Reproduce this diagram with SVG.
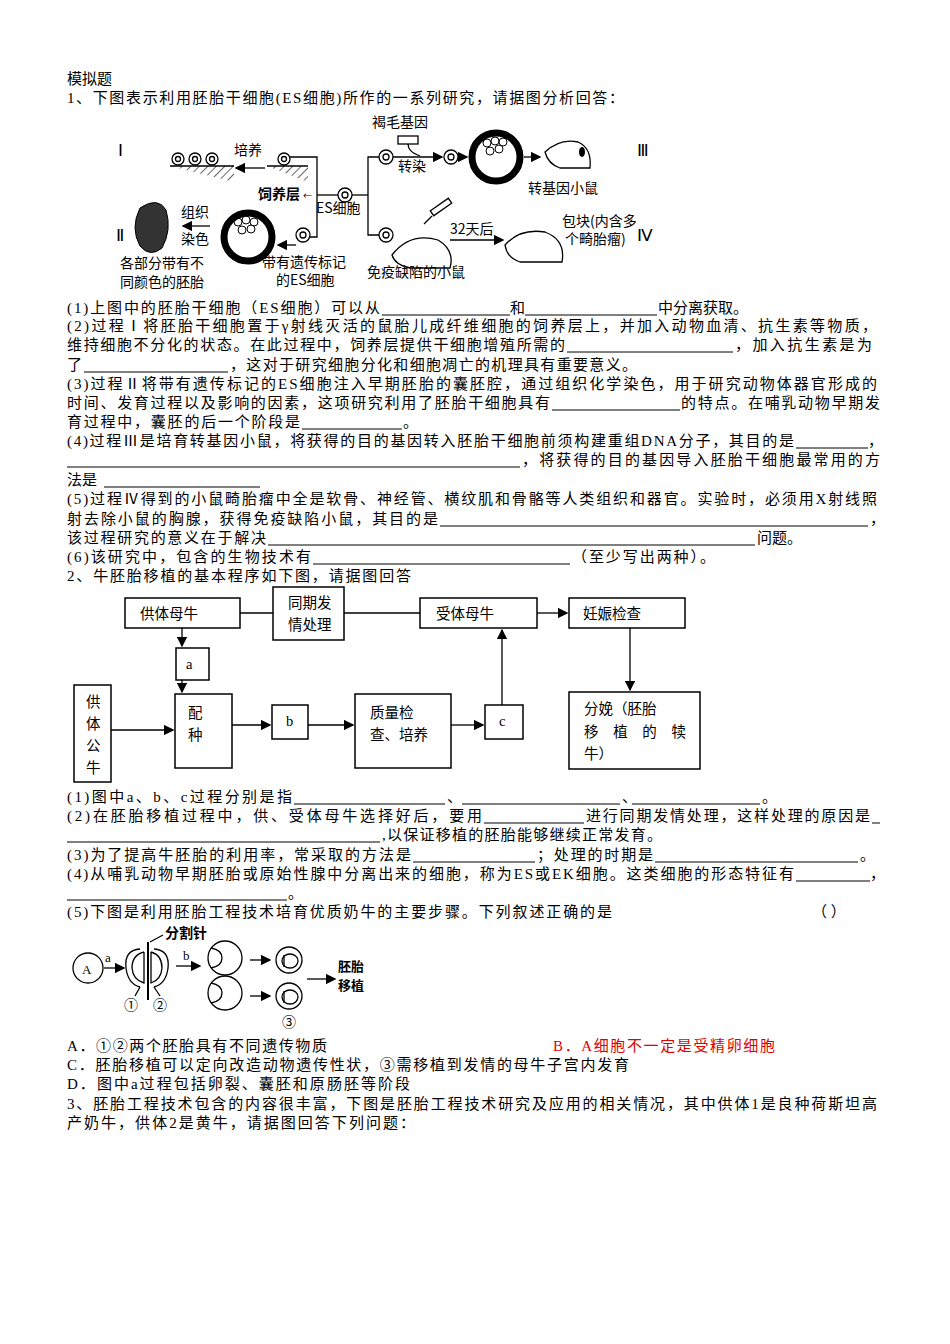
<svg xmlns="http://www.w3.org/2000/svg" width="950" height="1344" viewBox="0 0 950 1344">
<style>
text{font-family:"Liberation Serif","Noto Sans CJK SC",serif;font-size:15px;fill:#000}
.u{stroke:#000;stroke-width:1}
.b{fill:#fff;stroke:#000;stroke-width:1.5}
.l{stroke:#000;stroke-width:1.3;fill:none}
.f text{font-size:14.5px}
.fig text{font-family:"Noto Sans CJK SC",sans-serif;font-size:14px}
</style>
<defs>
<marker id="ar" markerWidth="8" markerHeight="8" refX="7" refY="4" orient="auto"><path d="M0,0 L8,4 L0,8 z" fill="#000"/></marker>
<pattern id="h" width="6" height="6" patternUnits="userSpaceOnUse" patternTransform="rotate(45)"><line x1="0" y1="0" x2="0" y2="6" stroke="#000" stroke-width="1.2"/></pattern>
</defs>
<rect width="950" height="1344" fill="#fff"/>
<g id="text">
<text x="67" y="84">模拟题</text>
<text x="67" y="103" textLength="557">1、下图表示利用胚胎干细胞(ES细胞)所作的一系列研究，请据图分析回答：</text>
<text x="67" y="313" textLength="313">(1)上图中的胚胎干细胞（ES细胞）可以从</text><line class="u" x1="382" y1="315" x2="510" y2="315"/><text x="510" y="313">和</text><line class="u" x1="525" y1="315" x2="657" y2="315"/><text x="658" y="313">中分离获取。</text>
<text x="67" y="331" textLength="810">(2)过程Ⅰ将胚胎干细胞置于γ射线灭活的鼠胎儿成纤维细胞的饲养层上，并加入动物血清、抗生素等物质，</text>
<text x="67" y="350" textLength="498">维持细胞不分化的状态。在此过程中，饲养层提供干细胞增殖所需的</text><line class="u" x1="567" y1="352" x2="733" y2="352"/><text x="735" y="350" textLength="137">，加入抗生素是为</text>
<text x="67" y="370">了</text><line class="u" x1="84" y1="372" x2="228" y2="372"/><text x="230" y="370" textLength="407">，这对于研究细胞分化和细胞凋亡的机理具有重要意义。</text>
<text x="67" y="389" textLength="810">(3)过程Ⅱ将带有遗传标记的ES细胞注入早期胚胎的囊胚腔，通过组织化学染色，用于研究动物体器官形成的</text>
<text x="67" y="408" textLength="483">时间、发育过程以及影响的因素，这项研究利用了胚胎干细胞具有</text><line class="u" x1="552" y1="410" x2="680" y2="410"/><text x="681" y="408" textLength="199">的特点。在哺乳动物早期发</text>
<text x="67" y="427" textLength="233">育过程中，囊胚的后一个阶段是</text><line class="u" x1="302" y1="429" x2="402" y2="429"/><text x="403" y="427">。</text>
<text x="67" y="446" textLength="727">(4)过程Ⅲ是培育转基因小鼠，将获得的目的基因转入胚胎干细胞前须构建重组DNA分子，其目的是</text><line class="u" x1="796" y1="448" x2="868" y2="448"/><text x="868" y="446">，</text>
<line class="u" x1="67" y1="467" x2="520" y2="467"/><text x="522" y="465" textLength="358">，将获得的目的基因导入胚胎干细胞最常用的方</text>
<text x="67" y="485">法是</text><line class="u" x1="104" y1="487" x2="260" y2="487"/>
<text x="67" y="504" textLength="810">(5)过程Ⅳ得到的小鼠畸胎瘤中全是软骨、神经管、横纹肌和骨骼等人类组织和器官。实验时，必须用X射线照</text>
<text x="67" y="524" textLength="371">射去除小鼠的胸腺，获得免疫缺陷小鼠，其目的是</text><line class="u" x1="440" y1="526" x2="868" y2="526"/><text x="870" y="524">，</text>
<text x="67" y="543" textLength="199">该过程研究的意义在于解决</text><line class="u" x1="268" y1="545" x2="755" y2="545"/><text x="757" y="543">问题。</text>
<text x="67" y="562" textLength="244">(6)该研究中，包含的生物技术有</text><line class="u" x1="313" y1="564" x2="570" y2="564"/><text x="572" y="562" textLength="143">（至少写出两种）。</text>
<text x="67" y="581" textLength="344">2、牛胚胎移植的基本程序如下图，请据图回答</text>
<text x="67" y="802" textLength="225">(1)图中a、b、c过程分别是指</text><line class="u" x1="294" y1="804" x2="445" y2="804"/><text x="447" y="802">、</text><line class="u" x1="462" y1="804" x2="620" y2="804"/><text x="622" y="802">、</text><line class="u" x1="632" y1="804" x2="760" y2="804"/><text x="762" y="802">。</text>
<text x="67" y="821" textLength="415">(2)在胚胎移植过程中，供、受体母牛选择好后，要用</text><line class="u" x1="484" y1="823" x2="584" y2="823"/><text x="586" y="821" textLength="284">进行同期发情处理，这样处理的原因是</text><line class="u" x1="872" y1="823" x2="880" y2="823"/>
<line class="u" x1="67" y1="842" x2="380" y2="842"/><text x="382" y="840" textLength="280">,以保证移植的胚胎能够继续正常发育。</text>
<text x="67" y="860" textLength="344">(3)为了提高牛胚胎的利用率，常采取的方法是</text><line class="u" x1="413" y1="862" x2="535" y2="862"/><text x="537" y="860" textLength="116">；处理的时期是</text><line class="u" x1="655" y1="862" x2="858" y2="862"/><text x="860" y="860">。</text>
<text x="67" y="879" textLength="727">(4)从哺乳动物早期胚胎或原始性腺中分离出来的细胞，称为ES或EK细胞。这类细胞的形态特征有</text><line class="u" x1="796" y1="881" x2="870" y2="881"/><text x="870" y="879">，</text>
<line class="u" x1="67" y1="900" x2="287" y2="900"/><text x="288" y="898">。</text>
<text x="67" y="917" textLength="545">(5)下图是利用胚胎工程技术培育优质奶牛的主要步骤。下列叙述正确的是</text><text x="812" y="917">（     ）</text>
<text x="67" y="1051" textLength="260">A．①②两个胚胎具有不同遗传物质</text><text x="553" y="1051" textLength="222" style="fill:#e00000">B．A细胞不一定是受精卵细胞</text>
<text x="67" y="1070" textLength="562">C．胚胎移植可以定向改造动物遗传性状，③需移植到发情的母牛子宫内发育</text>
<text x="67" y="1089" textLength="343">D．图中a过程包括卵裂、囊胚和原肠胚等阶段</text>
<text x="67" y="1109" textLength="810">3、胚胎工程技术包含的内容很丰富，下图是胚胎工程技术研究及应用的相关情况，其中供体1是良种荷斯坦高</text>
<text x="67" y="1128" textLength="348">产奶牛，供体2是黄牛，请据图回答下列问题：</text>
</g>
<g id="figure1" class="fig">
<text x="118" y="156" style="font-family:'Liberation Serif',serif;font-size:17px">Ⅰ</text>
<text x="116" y="241" style="font-family:'Liberation Serif',serif;font-size:17px">Ⅱ</text>
<text x="637" y="156" style="font-family:'Liberation Serif',serif;font-size:17px">Ⅲ</text>
<text x="637" y="241" style="font-family:'Liberation Serif',serif;font-size:17px">Ⅳ</text>
<g class="l" stroke-width="1.5">
<circle cx="178" cy="159" r="6"/><circle cx="178" cy="159" r="2.5"/>
<circle cx="195" cy="159" r="6"/><circle cx="195" cy="159" r="2.5"/>
<circle cx="212" cy="159" r="6"/><circle cx="212" cy="159" r="2.5"/>
<circle cx="284" cy="159" r="6"/><circle cx="284" cy="159" r="2.5"/>
<circle cx="345" cy="195" r="7"/><circle cx="345" cy="195" r="3"/>
<circle cx="386" cy="157" r="7"/><circle cx="386" cy="157" r="3"/>
<circle cx="451" cy="157" r="7"/><circle cx="451" cy="157" r="3"/>
<circle cx="303" cy="235" r="7"/><circle cx="303" cy="235" r="3"/>
<circle cx="386" cy="235" r="7"/><circle cx="386" cy="235" r="3"/>
</g>
<polygon points="170,166 234,166 234,182" fill="url(#h)"/><line class="l" x1="170" y1="166" x2="234" y2="166"/>
<polygon points="267,166 308,166 308,182" fill="url(#h)"/><line class="l" x1="267" y1="166" x2="308" y2="166"/>
<text x="234" y="155">培养</text>
<line class="l" x1="265" y1="168" x2="236" y2="168" marker-end="url(#ar)"/>
<polyline class="l" points="290,157 317,157 317,237 310,237"/>
<line class="l" x1="317" y1="195" x2="338" y2="195"/>
<polyline class="l" points="352,195 368,195"/>
<polyline class="l" points="379,157 368,157 368,235 379,235"/>
<line class="l" x1="393" y1="157" x2="442" y2="157" marker-end="url(#ar)"/>
<line class="l" x1="458" y1="157" x2="467" y2="157" marker-end="url(#ar)"/>
<text x="258" y="199" style="font-weight:bold">饲养层</text><text x="303" y="199" style="font-size:9px">←</text>
<text x="316" y="213">ES细胞</text>
<text x="372" y="127">褐毛基因</text>
<rect x="398" y="136" width="20" height="8" class="l"/>
<path class="l" d="M408,144 Q408,152 420,156"/>
<text x="398" y="171">转染</text>
<circle cx="496" cy="157" r="24" fill="none" stroke="#000" stroke-width="7"/>
<g fill="none" stroke="#000"><circle cx="487" cy="143" r="4"/><circle cx="495" cy="141" r="4"/><circle cx="503" cy="142" r="4"/><circle cx="490" cy="151" r="4"/><circle cx="499" cy="149" r="4"/></g>
<line class="l" x1="524" y1="157" x2="540" y2="157" marker-end="url(#ar)"/>
<path class="l" d="M545,152 Q560,138 578,142 Q592,148 590,168 L560,168 Q548,164 545,152 Z"/><ellipse cx="582" cy="152" rx="3" ry="5" fill="#000"/>
<text x="528" y="193">转基因小鼠</text>
<line class="l" x1="296" y1="245" x2="278" y2="245" marker-end="url(#ar)"/>
<circle cx="248" cy="237" r="24" fill="none" stroke="#000" stroke-width="7"/>
<g fill="none" stroke="#000"><circle cx="238" cy="222" r="4"/><circle cx="246" cy="220" r="4"/><circle cx="254" cy="222" r="4"/><circle cx="242" cy="230" r="4"/><circle cx="251" cy="229" r="4"/></g>
<text x="262" y="267">带有遗传标记</text><text x="276" y="285">的ES细胞</text>
<text x="181" y="217">组织</text><text x="181" y="244">染色</text>
<line class="l" x1="210" y1="226" x2="183" y2="226" marker-end="url(#ar)"/>
<path d="M140,208 Q158,196 166,210 Q172,230 162,248 Q150,258 140,246 Q130,228 140,208 Z" fill="#333" stroke="#000"/>
<text x="120" y="268">各部分带有不</text><text x="120" y="287">同颜色的胚胎</text>
<rect x="430" y="204" width="22" height="6" transform="rotate(-35 441 207)" class="l"/>
<line class="l" x1="432" y1="216" x2="424" y2="224"/>
<path class="l" d="M392,255 Q410,232 438,240 Q455,250 450,268 L410,268 Q395,265 392,255 Z"/>
<text x="367" y="277">免疫缺陷的小鼠</text>
<text x="450" y="234">32天后</text>
<line class="l" x1="450" y1="240" x2="503" y2="240" marker-end="url(#ar)"/>
<path class="l" d="M505,245 Q520,228 545,232 Q566,240 562,262 L520,262 Q507,258 505,245 Z"/>
<text x="562" y="226">包块(内含多</text><text x="565" y="244">个畸胎瘤)</text>
</g>
<g id="flowchart" class="f">
<g class="l" stroke-width="1.3">
<line x1="240" y1="613" x2="273" y2="613"/>
<line x1="344" y1="613" x2="420" y2="613"/>
<line x1="537" y1="613" x2="567" y2="613" marker-end="url(#ar)"/>
<line x1="182" y1="628" x2="182" y2="646" marker-end="url(#ar)"/>
<line x1="182" y1="680" x2="182" y2="692" marker-end="url(#ar)"/>
<line x1="111" y1="730" x2="173" y2="730" marker-end="url(#ar)"/>
<line x1="232" y1="725" x2="270" y2="725" marker-end="url(#ar)"/>
<line x1="308" y1="725" x2="353" y2="725" marker-end="url(#ar)"/>
<line x1="451" y1="725" x2="483" y2="725" marker-end="url(#ar)"/>
<line x1="502" y1="705" x2="502" y2="630" marker-end="url(#ar)"/>
<line x1="630" y1="628" x2="630" y2="690" marker-end="url(#ar)"/>
</g>
<rect class="b" x="125" y="598" width="115" height="30"/><text x="140" y="619">供体母牛</text>
<rect class="b" x="273" y="587" width="71" height="53"/><text x="288" y="608">同期发</text><text x="288" y="630">情处理</text>
<rect class="b" x="420" y="598" width="117" height="30"/><text x="436" y="619">受体母牛</text>
<rect class="b" x="569" y="598" width="116" height="30"/><text x="583" y="619">妊娠检查</text>
<rect class="b" x="176" y="648" width="33" height="32"/><text x="186" y="669">a</text>
<rect class="b" x="175" y="694" width="57" height="74"/><text x="188" y="718">配</text><text x="188" y="740">种</text>
<rect class="b" x="74" y="685" width="37" height="97"/><text x="86" y="707">供</text><text x="86" y="729">体</text><text x="86" y="751">公</text><text x="86" y="773">牛</text>
<rect class="b" x="272" y="705" width="36" height="34"/><text x="286" y="726">b</text>
<rect class="b" x="355" y="694" width="96" height="74"/><text x="370" y="718">质量检</text><text x="370" y="740">查、培养</text>
<rect class="b" x="485" y="705" width="38" height="34"/><text x="499" y="726">c</text>
<rect class="b" x="569" y="692" width="131" height="77"/><text x="584" y="714">分娩（胚胎</text><text x="584" y="737" textLength="102">移植的犊</text><text x="584" y="759">牛）</text>
</g>
<g id="figure2" class="fig">
<circle class="l" cx="88" cy="968" r="15"/><text x="82" y="974" style="font-family:'Liberation Serif',serif;font-size:13px">A</text>
<text x="105" y="962" style="font-family:'Liberation Serif',serif;font-size:13px">a</text>
<line class="l" x1="104" y1="968" x2="124" y2="968" marker-end="url(#ar)"/>
<path class="l" d="M140,949 Q124,950 126,968 Q128,984 140,987 M154,949 Q170,950 168,968 Q166,984 154,987"/>
<path class="l" d="M144,952 Q132,955 132,968 Q133,980 144,983 L144,952 M151,952 Q162,955 162,968 Q161,980 151,983 L151,952"/>
<line x1="148" y1="942" x2="148" y2="1000" stroke="#000" stroke-width="2"/>
<line class="l" x1="150" y1="942" x2="163" y2="935"/>
<text x="165" y="938" style="font-weight:bold">分割针</text>
<line class="l" x1="140" y1="987" x2="135" y2="996"/><line class="l" x1="154" y1="987" x2="160" y2="996"/>
<text x="124" y="1010">①</text><text x="153" y="1010">②</text>
<text x="183" y="960" style="font-family:'Liberation Serif',serif;font-size:13px">b</text>
<line class="l" x1="176" y1="966" x2="200" y2="966" marker-end="url(#ar)"/>
<circle class="l" cx="225" cy="958" r="17"/><path class="l" d="M211,948 Q222,950 222,958 Q222,966 211,968"/>
<circle class="l" cx="225" cy="993" r="17"/><path class="l" d="M211,983 Q222,985 222,993 Q222,1001 211,1003"/>
<line class="l" x1="250" y1="960" x2="270" y2="960" marker-end="url(#ar)"/>
<line class="l" x1="250" y1="996" x2="270" y2="996" marker-end="url(#ar)"/>
<circle class="l" cx="289" cy="960" r="13"/><ellipse class="l" cx="290" cy="961" rx="8" ry="7"/><line class="l" x1="284" y1="955" x2="284" y2="967"/>
<circle class="l" cx="289" cy="996" r="13"/><ellipse class="l" cx="290" cy="997" rx="8" ry="7"/><line class="l" x1="284" y1="991" x2="284" y2="1003"/>
<text x="282" y="1027">③</text>
<line class="l" x1="307" y1="979" x2="335" y2="979" marker-end="url(#ar)"/>
<text x="338" y="971" style="font-weight:bold;font-size:13px">胚胎</text><text x="338" y="990" style="font-weight:bold;font-size:13px">移植</text>
</g>
</svg>
